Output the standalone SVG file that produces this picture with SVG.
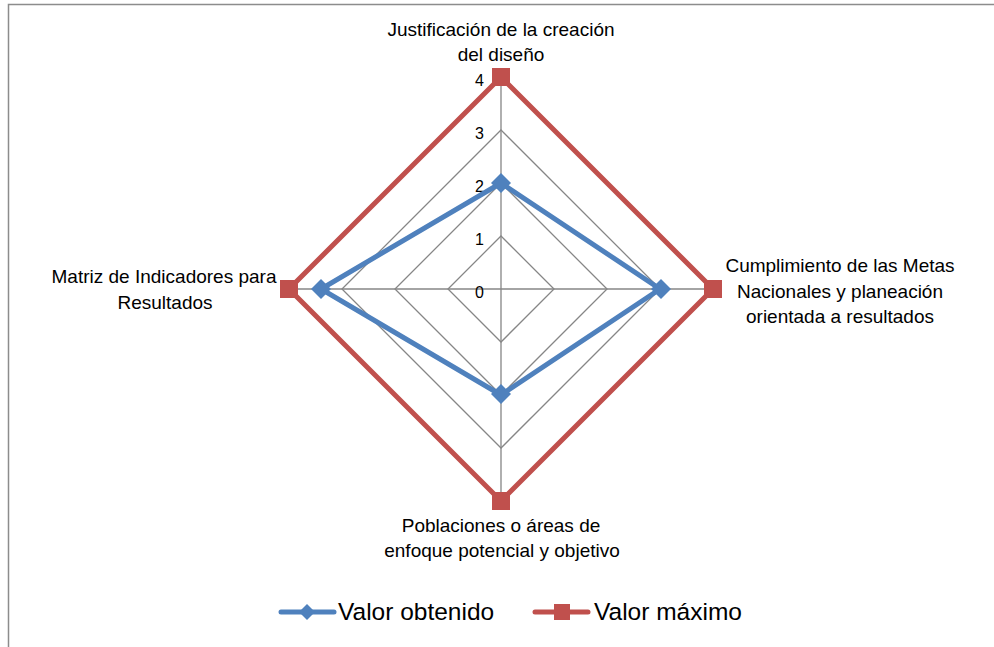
<svg xmlns="http://www.w3.org/2000/svg" width="994" height="647" viewBox="0 0 994 647">
<defs>
<style>
text{font-family:"Liberation Sans",Arial,sans-serif;fill:#000}
.lbl{font-size:19px;text-anchor:middle}
.tick{font-size:16px;text-anchor:end}
.leg{font-size:24.5px}
.grid{fill:none;stroke:#868686;stroke-width:1.3}
.blue{fill:none;stroke:#4F81BD;stroke-width:5;stroke-linejoin:miter}
.red{fill:none;stroke:#C0504D;stroke-width:5;stroke-linejoin:miter}
.dm{fill:#4F81BD}
.sq{fill:#C0504D}
</style>
</defs>
<rect x="0" y="0" width="994" height="647" fill="#fff"/>
<path d="M8.5 660 V4.5 H1000" fill="none" stroke="#8c8c8c" stroke-width="1.5"/>

<g id="grid">
<polygon class="grid" points="501,236 554,289 501,342 448,289"/>
<polygon class="grid" points="501,183 607,289 501,395 395,289"/>
<polygon class="grid" points="501,130 660,289 501,448 342,289"/>
<polygon class="grid" points="501,77 713,289 501,501 289,289"/>
<path class="grid" d="M501 77 V501 M289 289 H713"/>
</g>

<g id="ticks">
<text class="tick" x="484" y="86">4</text>
<text class="tick" x="484" y="139">3</text>
<text class="tick" x="484" y="192">2</text>
<text class="tick" x="484" y="245">1</text>
<text class="tick" x="484" y="298">0</text>
</g>

<g id="connectors">
<polygon class="red" points="501,77 713,289 501,501 289,289"/>
<polygon class="blue" points="501,183 660,289 501,395 321,289"/>
</g>

<g id="markers-max">
<rect class="sq" x="492" y="68" width="18" height="18"/>
<rect class="sq" x="704" y="280" width="18" height="18"/>
<rect class="sq" x="492" y="492" width="18" height="18"/>
<rect class="sq" x="280" y="280" width="18" height="18"/>
</g>
<g id="markers-obt">
<polygon class="dm" points="501,173 511,183 501,193 491,183"/>
<polygon class="dm" points="661,279 671,289 661,299 651,289"/>
<polygon class="dm" points="501,384 511,394 501,404 491,394"/>
<polygon class="dm" points="321,279 331,289 321,299 311,289"/>
</g>

<g id="node-justificacion">
<text class="lbl" x="501" y="36">Justificación de la creación</text>
<text class="lbl" x="501" y="61">del diseño</text>
</g>
<g id="node-cumplimiento">
<text class="lbl" x="840" y="272">Cumplimiento de las Metas</text>
<text class="lbl" x="840" y="298">Nacionales y planeación</text>
<text class="lbl" x="840" y="323">orientada a resultados</text>
</g>
<g id="node-poblaciones">
<text class="lbl" x="501" y="532">Poblaciones o áreas de</text>
<text class="lbl" x="502" y="557">enfoque potencial y objetivo</text>
</g>
<g id="node-matriz">
<text class="lbl" x="164" y="283">Matriz de Indicadores para</text>
<text class="lbl" x="165" y="309">Resultados</text>
</g>

<g id="legend">
<line x1="281" y1="612" x2="334" y2="612" stroke="#4F81BD" stroke-width="5" stroke-linecap="round"/>
<polygon class="dm" points="307,604 315,612 307,620 299,612"/>
<text class="leg" x="338" y="620">Valor obtenido</text>
<line x1="535" y1="612" x2="588" y2="612" stroke="#C0504D" stroke-width="5" stroke-linecap="round"/>
<rect class="sq" x="554" y="604" width="16" height="16"/>
<text class="leg" x="594" y="620">Valor máximo</text>
</g>
</svg>
